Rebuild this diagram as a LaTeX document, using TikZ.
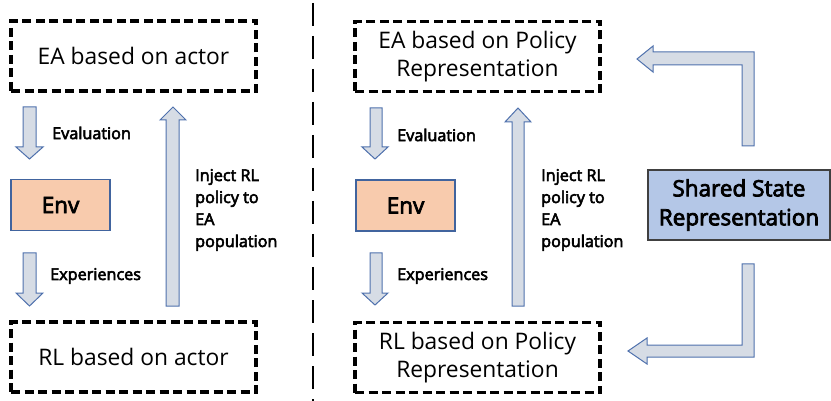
\documentclass[tikz,border=0pt]{standalone}
\usepackage{fontspec}
\setmainfont{Open Sans}
\newfontfamily\semib[FakeBold=3.5]{Open Sans}
\definecolor{arrfill}{HTML}{D6DCE5}
\definecolor{arrline}{HTML}{4F71AD}
\definecolor{envfill}{HTML}{F8CBAD}
\definecolor{envline}{HTML}{41649E}
\definecolor{ssfill}{HTML}{B4C7E7}
\definecolor{ssline}{HTML}{404040}
\tikzset{
  dbox/.style={draw=black, line width=3.2pt, dash pattern=on 9pt off 4.5pt, minimum width=245pt, minimum height=70pt, align=center, inner sep=0pt, font=\fontsize{22.8}{28}\selectfont},
  envbox/.style={draw=envline, fill=envfill, line width=1.2pt, minimum width=99pt, minimum height=51pt, inner sep=0pt, font=\semib\fontsize{22.5}{24}\selectfont},
  ssbox/.style={draw=ssline, fill=ssfill, line width=1.2pt, minimum width=182pt, minimum height=70pt, inner sep=0pt, align=center, font=\semib\fontsize{22.5}{29}\selectfont},
  blk/.style={draw=arrline, fill=arrfill, line width=1pt, line join=miter},
  lab/.style={anchor=west, inner sep=0pt, font=\semib\fontsize{16.2}{22}\selectfont, align=left},
}
\begin{document}
\begin{tikzpicture}[x=1pt,y=-1pt]
\useasboundingbox (0,0) rectangle (831,401);
% divider
\draw[line width=2.5pt, dash pattern=on 23pt off 10pt] (313,3) -- (313,401);
% left panel
\node[dbox] (ea1) at (133.5,56) {EA based on actor};
\node[dbox] (rl1) at (133.5,357) {RL based on actor};
\node[envbox] (env1) at (60.5,205) {Env};
\draw[blk] (23,107) -- (36,107) -- (36,147) -- (43,147) -- (29.5,159) -- (16,147) -- (23,147) -- cycle;
\draw[blk] (23,253) -- (36,253) -- (36,293) -- (43,293) -- (29.5,306) -- (16,293) -- (23,293) -- cycle;
\draw[blk] (166,306) -- (166,120) -- (160,120) -- (173,107) -- (186,120) -- (179,120) -- (179,306) -- cycle;
\node[lab] (ev1) at (52,133) {Evaluation};
\node[lab] (ex1) at (50,276) {Experiences};
\node[lab] (in1) at (195,210) {Inject RL\\policy to\\EA\\population};
% right panel
\node[dbox] (ea2) at (477.5,56.5) {EA based on Policy\\Representation};
\node[dbox] (rl2) at (477.5,357.5) {RL based on Policy\\Representation};
\node[envbox] (env2) at (405.5,205.5) {Env};
\node[ssbox] (ss) at (739,205) {Shared State\\Representation};
\draw[blk] (370,108) -- (382,108) -- (382,147) -- (388,147) -- (375,159) -- (362,147) -- (370,147) -- cycle;
\draw[blk] (370,253) -- (382,253) -- (382,293) -- (388,293) -- (375,305) -- (362,293) -- (370,293) -- cycle;
\draw[blk] (512,306) -- (512,122) -- (505,122) -- (518,108) -- (531,122) -- (524,122) -- (524,306) -- cycle;
\node[lab] (ev2) at (397,135) {Evaluation};
\node[lab] (ex2) at (397,276) {Experiences};
\node[lab] (in2) at (541,210) {Inject RL\\policy to\\EA\\population};
% bent arrows
\draw[blk] (754,146) -- (754,52) -- (653,52) -- (653,46) -- (637,59) -- (653,72) -- (653,65) -- (742,65) -- (742,146) -- cycle;
\draw[blk] (742,264) -- (754,264) -- (754,357) -- (647,357) -- (647,364) -- (628,351) -- (647,338) -- (647,345) -- (742,345) -- cycle;
\end{tikzpicture}
\end{document}
